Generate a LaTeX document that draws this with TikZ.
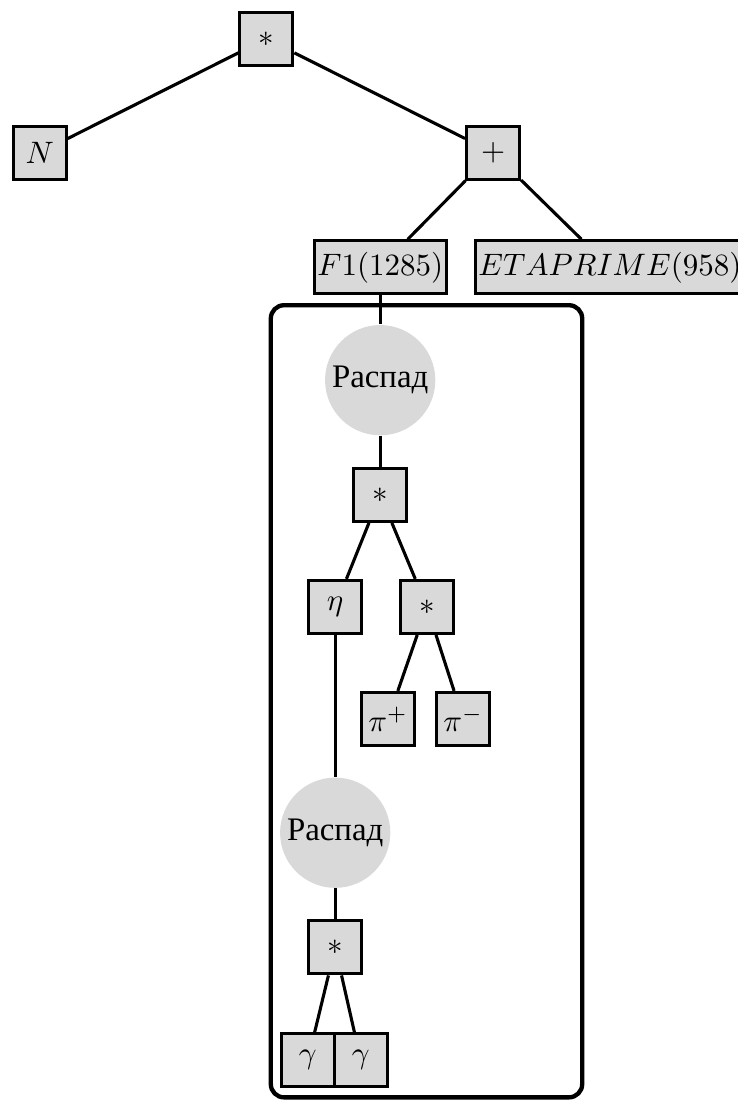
\documentclass[tikz,border=0pt]{standalone}
\usepackage{fontspec}
\newfontfamily\cyrfont{Liberation Serif}

\begin{document}
\begin{tikzpicture}[op/.style={draw,fill=gray!30,line width=1pt,minimum size=0.6cm,inner sep=1pt},
  dec/.style={circle,fill=gray!30,minimum size=1.25cm,inner sep=0pt,font=\cyrfont\fontsize{10.6}{12}\selectfont}]
\useasboundingbox (0,0) rectangle (8.36,-12.47);
\node (A) [op] at (3.02,-0.44) {$*$};
\node (B) [op] at (0.45,-1.73) {$N$};
\node (C) [op] at (5.59,-1.73) {$+$};
\node (D) [op] at (4.31,-3.03) {$F1(1285)$};
\node (E) [op,anchor=west] at (5.37,-3.03) {$ETAPRIME(958)$};

\draw[line width=1.4pt,rounded corners=0.15cm] (3.07,-3.46) rectangle (6.60,-12.44);

\node (F) [dec] at (4.31,-4.31) {Распад};
\node (G) [op] at (4.31,-5.61) {$*$};
\node (H) [op] at (3.80,-6.88) {$\eta$};
\node (I) [op] at (4.84,-6.88) {$*$};
\node (J) [op] at (4.40,-8.15) {$\pi^+$};
\node (K) [op] at (5.25,-8.15) {$\pi^-$};
\node (L) [dec] at (3.80,-9.44) {Распад};
\node (M) [op] at (3.80,-10.74) {$*$};
\node (O) [op] at (3.49,-12.02) {$\gamma$};
\node (P) [op] at (4.09,-12.02) {$\gamma$};

\path[line width=1pt] (A) edge (B);
\path[line width=1pt] (A) edge (C);
\path[line width=1pt] (C) edge (D);
\path[line width=1pt] (C) edge (E);
\path[line width=1pt] (D) edge (F);
\path[line width=1pt] (F) edge (G);
\path[line width=1pt] (G) edge (H);
\path[line width=1pt] (G) edge (I);
\path[line width=1pt] (I) edge (J);
\path[line width=1pt] (I) edge (K);
\path[line width=1pt] (H) edge (L);
\path[line width=1pt] (L) edge (M);
\path[line width=1pt] (M) edge (O);
\path[line width=1pt] (M) edge (P);
\end{tikzpicture}
\end{document}
